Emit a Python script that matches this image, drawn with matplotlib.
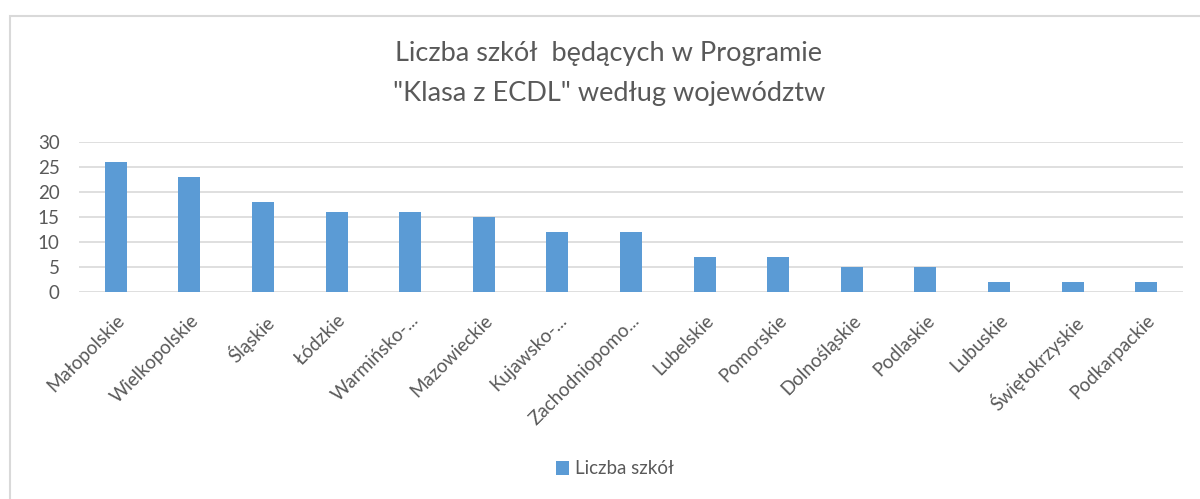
import matplotlib.pyplot as plt
from matplotlib.patches import Rectangle

plt.rcParams['font.family'] = ['Lato', 'DejaVu Sans']

wojewodztwa = ['Małopolskie', 'Wielkopolskie', 'Śląskie', 'Łódzkie', 'Warmińsko-...',
               'Mazowieckie', 'Kujawsko-...', 'Zachodniopomo...', 'Lubelskie', 'Pomorskie',
               'Dolnośląskie', 'Podlaskie', 'Lubuskie', 'Świętokrzyskie', 'Podkarpackie']
liczba_szkol = [26, 23, 18, 16, 16, 15, 12, 12, 7, 7, 5, 5, 2, 2, 2]

grey = '#595959'
blue = '#5b9bd5'

fig = plt.figure(figsize=(12, 4.99), dpi=100)
ax = fig.add_axes([79 / 1200, 207 / 499, 1104 / 1200, 150 / 499])

x = range(len(wojewodztwa))
ax.bar(x, liczba_szkol, width=0.3, color=blue, label='Liczba szkół', zorder=3)

ax.set_xlim(-0.5, len(wojewodztwa) - 0.5)
ax.set_ylim(0, 30)
ax.set_yticks(range(0, 31, 5))
ax.grid(axis='y', color='#d9d9d9', linewidth=1.2, zorder=0)
for s in ax.spines.values():
    s.set_visible(False)
ax.tick_params(axis='both', length=0, colors=grey, labelsize=13.5)
ax.tick_params(axis='y', pad=14)
ax.tick_params(axis='x', pad=14)
ax.set_xticks(list(x))
ax.set_xticklabels(wojewodztwa, rotation=45, ha='right', rotation_mode='anchor')

fig.text(609 / 1200, 1 - 74 / 499,
         'Liczba szkół  będących w Programie\n"Klasa z ECDL" według województw',
         color=grey, fontsize=19.5, ha='center', va='center', linespacing=1.75)

fig.legend(loc='center', bbox_to_anchor=(615 / 1200, 1 - 469 / 499), frameon=False,
           fontsize=13.5, labelcolor=grey, handlelength=0.7, handleheight=0.7,
           handletextpad=0.3)

# chart border
fig.patches.append(Rectangle((10 / 1200, -0.1), 1.2, 1 - 16 / 499 + 0.1,
                             transform=fig.transFigure, fill=False,
                             edgecolor='#d9d9d9', linewidth=1.5))

fig.savefig('out.png')
